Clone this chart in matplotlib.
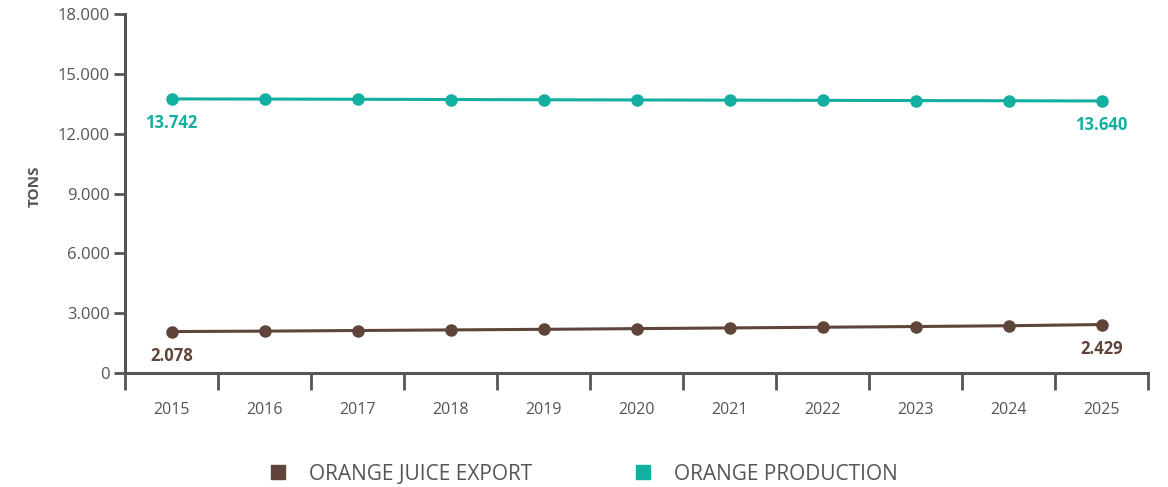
import matplotlib.pyplot as plt
import matplotlib.ticker as mticker
import numpy as np
from matplotlib.lines import Line2D

years = ["2015", "2016", "2017", "2018", "2019", "2020", "2021", "2022", "2023", "2024", "2025"]
production = [13742, 13735, 13725, 13712, 13700, 13690, 13680, 13670, 13660, 13650, 13640]
juice_export = [2078, 2100, 2130, 2160, 2190, 2225, 2260, 2295, 2330, 2370, 2429]

TEAL = "#13B0A1"
BROWN = "#5F4539"
GREY = "#555555"

plt.rcParams["font.family"] = ["Open Sans", "DejaVu Sans"]


def dot_fmt(v, pos=None):
    return f"{int(round(v)):,}".replace(",", ".")


fig = plt.figure(figsize=(11.68, 4.87), dpi=100)
ax = fig.add_axes([125 / 1168, 114 / 487, 1023 / 1168, 359 / 487])

x = np.arange(len(years))
ax.plot(x, production, color=TEAL, lw=2.2, marker="o", ms=8, zorder=3)
ax.plot(x, juice_export, color=BROWN, lw=2.2, marker="o", ms=8, zorder=3)

# first / last value labels
for series, col in [(production, TEAL), (juice_export, BROWN)]:
    for i in (0, len(series) - 1):
        ax.annotate(dot_fmt(series[i]), (x[i], series[i]), xytext=(0, -11),
                    textcoords="offset points", ha="center", va="top",
                    color=col, fontsize=12, fontweight="bold")

ax.set_xlim(-0.5, len(years) - 0.5)
ax.set_ylim(0, 18000)
ax.set_yticks(np.arange(0, 18001, 3000))
ax.yaxis.set_major_formatter(mticker.FuncFormatter(dot_fmt))

# category ticks between years, labels centred under points
ax.set_xticks(np.arange(-0.5, len(years), 1.0))
ax.set_xticklabels([])
ax.set_xticks(x, minor=True)
ax.set_xticklabels(years, minor=True)
ax.tick_params(axis="x", which="major", length=12, width=2, color=GREY, direction="out")
ax.tick_params(axis="x", which="minor", length=0, pad=21, labelsize=11.5, labelcolor=GREY)
ax.tick_params(axis="y", length=8, width=2, color=GREY, labelsize=12, labelcolor=GREY, pad=3)

for s in ["top", "right"]:
    ax.spines[s].set_visible(False)
for s in ["left", "bottom"]:
    ax.spines[s].set_color(GREY)
    ax.spines[s].set_linewidth(2.2)

ax.set_ylabel("TONS", fontsize=11, fontweight="bold", color=GREY, labelpad=0)
ax.yaxis.set_label_coords(-0.081, 0.52)

handles = [
    Line2D([], [], marker="s", ls="none", color=BROWN, ms=10),
    Line2D([], [], marker="s", ls="none", color=TEAL, ms=10),
]
fig.legend(handles, ["ORANGE JUICE EXPORT", "ORANGE PRODUCTION"], loc="center",
           bbox_to_anchor=(583 / 1168, 1 - 474 / 487), ncol=2, frameon=False,
           fontsize=15, labelcolor=GREY, columnspacing=4.8, handletextpad=1.0,
           handlelength=1.0)

fig.savefig("out.png", dpi=100)
